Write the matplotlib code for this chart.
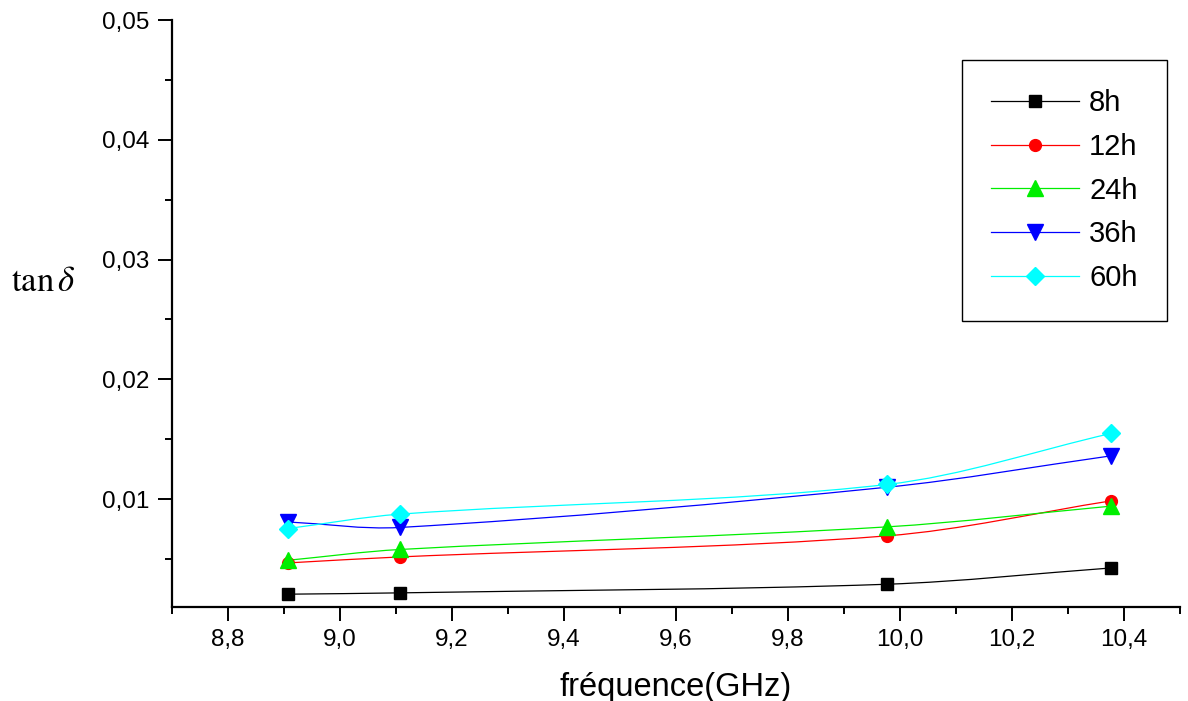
import matplotlib
matplotlib.use("Agg")
import matplotlib.pyplot as plt
from matplotlib.path import Path
from matplotlib.patches import PathPatch
from matplotlib.lines import Line2D
from matplotlib.ticker import MultipleLocator, FuncFormatter

plt.rcParams['font.family'] = ['Liberation Sans', 'DejaVu Sans']
plt.rcParams['mathtext.fontset'] = 'stix'

freq = [8.907, 9.107, 9.977, 10.377]
tan_8h = [0.00207, 0.00218, 0.0029, 0.00426]
tan_12h = [0.00468, 0.00518, 0.00694, 0.00986]
tan_24h = [0.0049, 0.0058, 0.00769, 0.00942]
tan_36h = [0.0081, 0.00764, 0.0110, 0.01362]
tan_60h = [0.00755, 0.00875, 0.01123, 0.01549]

labels = ['8h', '12h', '24h', '36h', '60h']
series = [tan_8h, tan_12h, tan_24h, tan_36h, tan_60h]
colors = ['#000000', '#ff0000', '#00ee00', '#0000ff', '#00ffff']
markers = ['s', 'o', '^', 'v', 'D']
msizes = [8, 8.5, 11, 11, 9]


def smooth_path(xs, ys):
    # cubic Hermite curve in x, drawn as Bezier segments
    n = len(xs)
    slopes = []
    for i in range(n):
        a, b = max(i - 1, 0), min(i + 1, n - 1)
        slopes.append((ys[b] - ys[a]) / (xs[b] - xs[a]))
    verts = [(xs[0], ys[0])]
    codes = [Path.MOVETO]
    for i in range(n - 1):
        h = (xs[i + 1] - xs[i]) / 3
        verts += [(xs[i] + h, ys[i] + slopes[i] * h),
                  (xs[i + 1] - h, ys[i + 1] - slopes[i + 1] * h),
                  (xs[i + 1], ys[i + 1])]
        codes += [Path.CURVE4] * 3
    return Path(verts, codes)


fig = plt.figure(figsize=(11.88, 7.01), dpi=100)
ax = fig.add_axes([172 / 1188, 1 - 607 / 701, 1008 / 1188, 587 / 701])

handles = []
for ys, lab, c, m, ms in zip(series, labels, colors, markers, msizes):
    ax.add_patch(PathPatch(smooth_path(freq, ys), facecolor='none', edgecolor=c, lw=0.9))
    ax.plot(freq, ys, linestyle='none', marker=m, color=c, markersize=ms, zorder=3)
    handles.append(Line2D([], [], color=c, lw=0.9, marker=m, markersize=ms))

ax.set_xlim(8.7, 10.5)
ax.set_ylim(0.001, 0.05)
ax.xaxis.set_major_locator(MultipleLocator(0.2))
ax.xaxis.set_minor_locator(MultipleLocator(0.1))
ax.yaxis.set_major_locator(MultipleLocator(0.01))
ax.yaxis.set_minor_locator(MultipleLocator(0.005))
ax.xaxis.set_major_formatter(FuncFormatter(lambda v, p: f'{v:.1f}'.replace('.', ',')))
ax.yaxis.set_major_formatter(FuncFormatter(lambda v, p: f'{v:.2f}'.replace('.', ',')))

for s in ['top', 'right']:
    ax.spines[s].set_visible(False)
for s in ['left', 'bottom']:
    ax.spines[s].set_linewidth(1.6)

ax.tick_params(which='major', direction='out', length=10, width=1.4, labelsize=17.5, pad=6)
ax.tick_params(which='minor', direction='out', length=5, width=1.4)

ax.set_xlabel('fréquence(GHz)', fontsize=23.5, labelpad=15)
ax.set_ylabel(r'$\mathrm{tan}\,\delta$', fontsize=25, rotation=0, va='center', ha='center')
ax.yaxis.set_label_coords(-0.128, 0.554)

leg = ax.legend(handles, labels, loc='upper right', bbox_to_anchor=(0.987, 0.932),
                borderaxespad=0, fontsize=21, handlelength=3.0, handletextpad=0.35,
                labelspacing=0.54, borderpad=1.0, fancybox=False, edgecolor='black',
                framealpha=1)
leg.get_frame().set_linewidth(1.0)

fig.savefig('out.png', dpi=100)
